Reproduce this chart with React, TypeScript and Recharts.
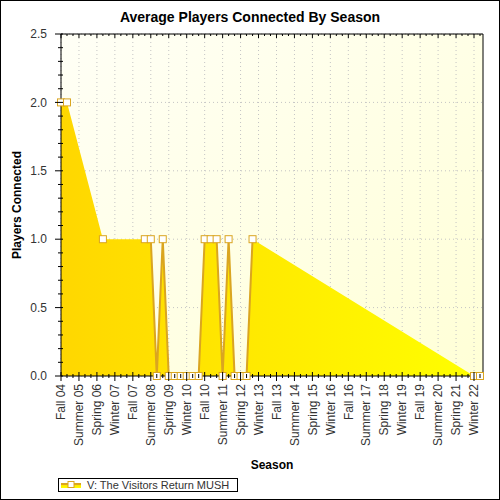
import { ComposedChart, Area, Line, XAxis, YAxis, CartesianGrid } from "recharts"

const seasons = [
  "Fall 04", "Winter 05", "Spring 05", "Summer 05", "Fall 05", "Winter 06", "Spring 06", "Summer 06",
  "Fall 06", "Winter 07", "Spring 07", "Summer 07", "Fall 07", "Winter 08", "Spring 08", "Summer 08",
  "Fall 08", "Winter 09", "Spring 09", "Summer 09", "Fall 09", "Winter 10", "Spring 10", "Summer 10",
  "Fall 10", "Winter 11", "Spring 11", "Summer 11", "Fall 11", "Winter 12", "Spring 12", "Summer 12",
  "Fall 12", "Winter 13", "Spring 13", "Summer 13", "Fall 13", "Winter 14", "Spring 14", "Summer 14",
  "Fall 14", "Winter 15", "Spring 15", "Summer 15", "Fall 15", "Winter 16", "Spring 16", "Summer 16",
  "Fall 16", "Winter 17", "Spring 17", "Summer 17", "Fall 17", "Winter 18", "Spring 18", "Summer 18",
  "Fall 18", "Winter 19", "Spring 19", "Summer 19", "Fall 19", "Winter 20", "Spring 20", "Summer 20",
  "Fall 20", "Winter 21", "Spring 21", "Summer 21", "Fall 21", "Winter 22", "Spring 22",
]

// null = no sessions recorded that season
const players: (number | null)[] = [
  2, 2, null, null, null, null, null, 1,
  null, null, null, null, null, null, 1, 1,
  0, 1, 0, 0, 0, 0, 0, 0,
  1, 1, 1, 0, 1, 0, 0, 0,
  1, null, null, null, null, null, null, null,
  null, null, null, null, null, null, null, null,
  null, null, null, null, null, null, null, null,
  null, null, null, null, null, null, null, null,
  null, null, null, null, null, 0, 0,
]

const yTicks = [
  0, 0.1, 0.2, 0.3, 0.4, 0.5, 0.6, 0.7, 0.8, 0.9, 1, 1.1, 1.2,
  1.3, 1.4, 1.5, 1.6, 1.7, 1.8, 1.9, 2, 2.1, 2.2, 2.3, 2.4, 2.5,
]
const yMajor = [0, 0.5, 1, 1.5, 2, 2.5]

const seriesName = "V: The Visitors Return MUSH"

const data = seasons.map((season, i) => ({ season, players: players[i] }))
// every third season gets a label and a grid line
const labelledSeasons = seasons.filter((_, i) => i % 3 === 0)

const font = "'Liberation Sans', Arial, sans-serif"
const gold = "#DAA520"

const isMajorSeason = (value: string) => labelledSeasons.includes(value)

function BottomTick({ x, y, payload }: any) {
  const major = isMajorSeason(payload.value)
  return (
    <g>
      <line x1={x} x2={x} y1={y - (major ? 4 : 2)} y2={y + (major ? 5 : 2)} stroke="#000" />
      {major && (
        <text
          x={x}
          y={y + 8}
          dy="0.35em"
          textAnchor="end"
          transform={`rotate(-90 ${x} ${y + 8})`}
          fontFamily={font}
          fontSize={12}
          fill="#333"
        >
          {payload.value}
        </text>
      )}
    </g>
  )
}

function TopTick({ x, y, payload }: any) {
  const major = isMajorSeason(payload.value)
  return <line x1={x} x2={x} y1={y} y2={y + (major ? 4 : 2)} stroke="#000" />
}

function LeftTick({ x, y, payload }: any) {
  const major = yMajor.includes(payload.value)
  return (
    <g>
      <line x1={x - (major ? 6 : 3)} x2={x + 2} y1={y} y2={y} stroke="#000" />
      {major && (
        <text x={x - 14} y={y} dy="0.35em" textAnchor="end" fontFamily={font} fontSize={12} fill="#333">
          {payload.value.toFixed(1)}
        </text>
      )}
    </g>
  )
}

function RightTick({ x, y, payload }: any) {
  const major = yMajor.includes(payload.value)
  return <line x1={x - 2} x2={x + (major ? 4 : 2)} y1={y} y2={y} stroke="#000" />
}

function SquareDot({ cx, cy, index }: any) {
  if (cx == null || cy == null) return <g key={index} />
  return <rect key={index} x={cx - 3.5} y={cy - 3.5} width={7} height={7} fill="#fff" stroke={gold} strokeWidth={1} />
}

export default function App() {
  return (
    <div style={{ position: "absolute", left: 0, top: 0, width: 500, height: 500, background: "#fff" }}>
      <ComposedChart width={500} height={500} data={data} margin={{ top: 30, right: 7, bottom: 0, left: 0 }}>
        <defs>
          <linearGradient id="plotBg" x1="0" y1="0" x2="1" y2="1">
            <stop offset="0%" stopColor="#FFFFF6" />
            <stop offset="100%" stopColor="#FFFFD6" />
          </linearGradient>
          <linearGradient id="areaFill" x1="0" y1="0" x2="1" y2="0">
            <stop offset="0%" stopColor="#FFD700" />
            <stop offset="100%" stopColor="#FFFF00" />
          </linearGradient>
        </defs>
        <CartesianGrid
          fill="url(#plotBg)"
          stroke="#C4C4C4"
          strokeDasharray="1 3"
          verticalValues={labelledSeasons}
          horizontalValues={yMajor}
        />
        <XAxis
          dataKey="season"
          interval={0}
          height={124}
          padding={{ left: 0, right: 3 }}
          tickSize={0}
          tickMargin={0}
          tickLine={false}
          axisLine={{ stroke: "#000" }}
          tick={<BottomTick />}
        />
        <XAxis
          xAxisId="top"
          orientation="top"
          dataKey="season"
          interval={0}
          height={4}
          padding={{ left: 0, right: 3 }}
          tickSize={0}
          tickMargin={0}
          tickLine={false}
          axisLine={{ stroke: "#000" }}
          tick={<TopTick />}
        />
        <YAxis
          width={61}
          domain={[0, 2.5]}
          ticks={yTicks}
          interval={0}
          tickSize={0}
          tickMargin={0}
          tickLine={false}
          axisLine={{ stroke: "#000" }}
          tick={<LeftTick />}
        />
        <YAxis
          yAxisId="right"
          orientation="right"
          width={10}
          domain={[0, 2.5]}
          ticks={yTicks}
          interval={0}
          tickSize={0}
          tickMargin={0}
          tickLine={false}
          axisLine={{ stroke: "#000" }}
          tick={<RightTick />}
        />
        <Area
          dataKey="players"
          name={seriesName}
          connectNulls
          stroke="none"
          fill="url(#areaFill)"
          fillOpacity={1}
          dot={false}
          activeDot={false}
          isAnimationActive={false}
        />
        <Line
          dataKey="players"
          name={seriesName}
          stroke={gold}
          strokeWidth={2}
          dot={<SquareDot />}
          activeDot={false}
          isAnimationActive={false}
        />
      </ComposedChart>
      <svg width={500} height={500} style={{ position: "absolute", left: 0, top: 0, pointerEvents: "none" }}>
        <defs>
          <linearGradient id="legendFill" x1="0" y1="0" x2="0" y2="1">
            <stop offset="0%" stopColor="#FFD700" />
            <stop offset="100%" stopColor="#FFFF00" />
          </linearGradient>
        </defs>
        <text x={250} y={22} textAnchor="middle" fontFamily={font} fontSize={14} fontWeight="bold" fill="#000">
          Average Players Connected By Season
        </text>
        <text
          x={21}
          y={205}
          textAnchor="middle"
          transform="rotate(-90 21 205)"
          fontFamily={font}
          fontSize={12}
          fontWeight="bold"
          fill="#000"
        >
          Players Connected
        </text>
        <text x={272} y={469} textAnchor="middle" fontFamily={font} fontSize={12} fontWeight="bold" fill="#000">
          Season
        </text>
        <rect x={58.5} y={478.5} width={179} height={13} fill="#fff" stroke="#000" />
        <rect x={61} y={483} width={20} height={5} fill="url(#legendFill)" />
        <line x1={61} x2={81} y1={484} y2={484} stroke={gold} strokeWidth={2} />
        <rect x={68} y={481.5} width={6} height={6} fill="#fff" stroke={gold} />
        <text x={87} y={489} fontFamily={font} fontSize={11} fill="#333">
          {seriesName}
        </text>
        <rect x={0.5} y={0.5} width={499} height={499} fill="none" stroke="#000" />
      </svg>
    </div>
  )
}
